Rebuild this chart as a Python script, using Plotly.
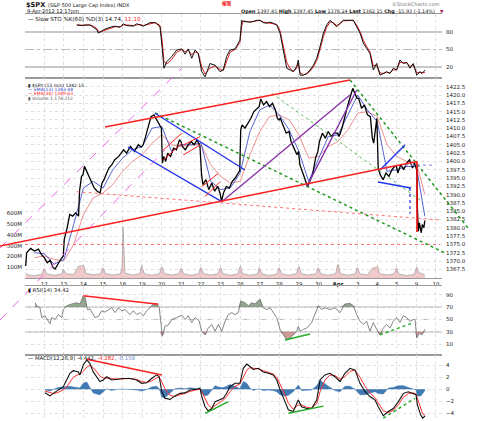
import plotly.graph_objects as go

W, H = 480, 421

# ---------------- data ----------------
day_ticks = list(range(1, 22))
day_labels = ["12", "13", "14", "15", "16", "19", "20", "21", "22", "23", "26", "27", "28",
              "29", "30", "<b>Apr</b>", "3", "4", "5", "9", "10"]

price_day = [0.05, 0.10, 0.30, 0.50, 0.70, 0.85,
             1.00, 1.15, 1.30, 1.45, 1.55, 1.70, 1.85, 1.97,
             2.02, 2.15, 2.30, 2.45, 2.60, 2.75, 2.80, 2.90, 2.98,
             3.05, 3.20, 3.40, 3.55, 3.70, 3.85, 3.95,
             4.05, 4.15, 4.30, 4.45, 4.60, 4.80, 4.95,
             5.05, 5.20, 5.40, 5.60, 5.80, 5.95,
             6.05, 6.15, 6.30, 6.45, 6.60, 6.75, 6.90, 6.98,
             7.03, 7.10, 7.20, 7.30, 7.45, 7.60, 7.75, 7.90, 7.98,
             8.05, 8.20, 8.35, 8.50, 8.65, 8.80, 8.95,
             9.03, 9.10, 9.25, 9.40, 9.55, 9.70, 9.85, 9.97,
             10.05, 10.15, 10.30, 10.45, 10.60, 10.75, 10.90, 10.98,
             11.03, 11.10, 11.25, 11.40, 11.55, 11.70, 11.85, 11.97,
             12.05, 12.20, 12.35, 12.50, 12.65, 12.80, 12.90, 12.98,
             13.05, 13.20, 13.35, 13.50, 13.60, 13.75, 13.90, 13.98,
             14.05, 14.20, 14.35, 14.45, 14.55, 14.70, 14.85, 14.97,
             15.05, 15.20, 15.35, 15.50, 15.65, 15.80, 15.97,
             16.05, 16.20, 16.35, 16.50, 16.65, 16.75, 16.85, 16.97,
             17.05, 17.20, 17.35, 17.50, 17.65, 17.75, 17.82, 17.92, 17.98,
             18.05, 18.15, 18.30, 18.45, 18.60, 18.75, 18.90, 18.98,
             19.05, 19.20, 19.35, 19.50, 19.65, 19.80, 19.90, 19.98,
             20.02, 20.05, 20.10, 20.15, 20.25, 20.30, 20.38, 20.43]
price_close = [1368.5, 1372.5, 1373.8, 1373.0, 1373.6, 1372.0,
               1371.0, 1369.5, 1370.2, 1368.0, 1367.6, 1369.3, 1370.6, 1371.5,
               1376.5, 1379.5, 1384.0, 1383.5, 1384.5, 1383.5, 1391.0, 1395.5, 1396.0,
               1398.5, 1396.5, 1394.0, 1392.0, 1391.0, 1390.5, 1393.5,
               1394.5, 1396.0, 1398.0, 1399.0, 1400.5, 1401.5, 1402.5,
               1403.5, 1402.5, 1404.5, 1403.0, 1405.0, 1404.3,
               1405.0, 1407.0, 1410.5, 1413.5, 1414.0, 1412.5, 1411.0, 1410.0,
               1399.5, 1401.5, 1400.0, 1402.5, 1401.5, 1404.0, 1403.5, 1406.5, 1406.0,
               1404.5, 1403.5, 1405.0, 1406.0, 1405.0, 1406.5, 1404.5,
               1396.0, 1393.0, 1394.5, 1391.5, 1393.5, 1391.0, 1392.5, 1390.5,
               1388.0, 1390.5, 1392.5, 1392.0, 1394.0, 1395.0, 1396.5, 1397.2,
               1409.5, 1411.0, 1410.0, 1411.5, 1413.0, 1415.0, 1416.0, 1416.5,
               1418.8, 1417.0, 1418.0, 1416.5, 1417.5, 1415.5, 1413.0, 1412.5,
               1413.0, 1411.0, 1408.5, 1409.0, 1406.0, 1404.0, 1402.0, 1403.0,
               1399.0, 1396.5, 1394.0, 1392.3, 1394.0, 1396.0, 1401.0, 1403.0,
               1406.0, 1408.5, 1407.0, 1409.0, 1407.5, 1408.5, 1408.5,
               1407.5, 1410.0, 1414.0, 1417.0, 1420.0, 1422.0, 1420.5, 1419.0,
               1419.0, 1416.0, 1417.0, 1414.0, 1413.5, 1407.0, 1405.5, 1411.0, 1413.0,
               1398.0, 1396.0, 1394.5, 1396.5, 1395.5, 1397.5, 1398.5, 1398.5,
               1396.5, 1399.0, 1397.5, 1399.5, 1400.5, 1398.0, 1399.5, 1398.0,
               1397.4, 1386.0, 1379.0, 1381.5, 1378.5, 1381.0, 1380.0, 1382.2]

ema_day = [0.5, 1.0, 1.5, 2.0, 2.5, 3.0, 3.5, 4.0, 4.5, 5.0, 5.5, 6.0, 6.5, 7.0, 7.5, 8.0,
           8.5, 9.0, 9.5, 10.0, 10.5, 11.0, 11.5, 12.0, 12.5, 13.0, 13.5, 14.0, 14.5, 15.0,
           15.5, 16.0, 16.5, 17.0, 17.5, 18.0, 18.5, 19.0, 19.5, 20.0, 20.43]
ema13 = [1372.5, 1372.2, 1369.0, 1370.5, 1381.0, 1392.0, 1394.0, 1392.0, 1397.5, 1401.0,
         1403.5, 1404.5, 1410.0, 1410.5, 1403.0, 1405.0, 1405.0, 1405.5, 1394.0, 1391.5,
         1392.0, 1396.5, 1409.0, 1415.5, 1417.0, 1414.0, 1409.5, 1403.0, 1394.0, 1401.0,
         1407.5, 1408.0, 1414.0, 1420.0, 1415.5, 1412.0, 1397.0, 1397.5, 1398.5, 1398.5,
         1383.5]
ema34 = [1371.0, 1371.5, 1370.5, 1370.0, 1375.0, 1384.0, 1389.0, 1390.5, 1393.0, 1397.0,
         1400.0, 1402.0, 1405.5, 1408.0, 1405.0, 1404.5, 1405.0, 1405.0, 1399.0, 1395.5,
         1393.5, 1394.0, 1402.0, 1409.0, 1413.5, 1414.0, 1412.5, 1408.0, 1401.0, 1401.5,
         1404.5, 1406.0, 1409.5, 1414.5, 1415.0, 1413.5, 1405.0, 1401.5, 1400.0, 1399.5,
         1390.0]

vol_day = [0.05, 0.12, 0.50, 0.88, 0.97, 1.02, 1.12, 1.50, 1.88, 1.97,
           2.02, 2.12, 2.50, 2.75, 2.97, 3.02, 3.12, 3.50, 3.88, 3.97,
           4.02, 4.12, 4.50, 4.88, 4.97, 5.02, 5.12, 5.50, 5.88, 5.97,
           6.02, 6.12, 6.50, 6.88, 6.97, 7.02, 7.12, 7.50, 7.88, 7.97,
           8.02, 8.12, 8.50, 8.88, 8.97, 9.02, 9.12, 9.50, 9.88, 9.97,
           10.02, 10.12, 10.50, 10.88, 10.97, 11.02, 11.12, 11.50, 11.88, 11.97,
           12.02, 12.12, 12.50, 12.88, 12.97, 13.02, 13.12, 13.50, 13.88, 13.97,
           14.02, 14.12, 14.50, 14.88, 14.97, 15.02, 15.12, 15.50, 15.88, 15.97,
           16.02, 16.12, 16.50, 16.88, 16.97, 17.02, 17.12, 17.50, 17.75, 17.97,
           18.02, 18.12, 18.50, 18.88, 18.97, 19.02, 19.12, 19.50, 19.88, 19.97,
           20.02, 20.12, 20.30, 20.43]
vol_m = [50, 30, 22, 35, 85, 80, 40, 25, 35, 80,
         70, 40, 30, 110, 115, 110, 45, 30, 40, 95,
         85, 40, 28, 38, 105, 475, 45, 28, 40, 115,
         85, 38, 26, 38, 95, 100, 42, 28, 40, 90,
         80, 38, 26, 38, 90, 95, 42, 28, 40, 90,
         95, 40, 26, 38, 95, 110, 40, 26, 36, 95,
         80, 36, 24, 36, 95, 85, 38, 26, 40, 100,
         100, 40, 28, 40, 95, 85, 38, 26, 40, 120,
         120, 40, 26, 38, 95, 85, 38, 28, 90, 100,
         110, 42, 28, 40, 95, 75, 35, 24, 32, 80,
         100, 50, 38, 30]

stoch_day = [2.66, 2.91, 3.08, 3.33, 3.50, 3.68, 3.76, 3.85, 4.10, 4.36,
             4.61, 4.87, 5.03, 5.21, 5.55, 5.72, 5.89, 6.06, 6.40, 6.65,
             6.74, 6.91, 7.03, 7.11, 7.25, 7.51, 7.76, 8.02, 8.19, 8.35,
             8.53, 8.70, 8.86, 9.04, 9.21, 9.46, 9.72, 9.97, 10.14, 10.31,
             10.48, 10.74, 10.99, 11.08, 11.16, 11.50, 11.67, 11.85, 12.01, 12.18,
             12.36, 12.53, 12.69, 12.87, 13.04, 13.20, 13.38, 13.55, 13.72, 13.89,
             13.97, 14.06, 14.23, 14.40, 14.57, 14.74, 14.91, 15.08, 15.25, 15.42,
             15.59, 15.76, 15.93, 16.10, 16.27, 16.78, 16.95, 17.12, 17.29, 17.46,
             17.63, 17.80, 17.97, 18.14, 18.31, 18.48, 18.65, 18.82, 18.99, 19.16,
             19.33, 19.51, 19.67, 19.84, 20.02, 20.18, 20.29, 20.44]
stoch_k = [92, 91, 92, 92, 88, 84, 78, 80, 85, 88,
           90, 88, 94, 91, 90, 94, 92, 90, 96, 96,
           94, 89, 49, 18, 29, 38, 49, 51, 42, 51,
           35, 49, 43, 12, 3.4, 26, 23, 12, 15, 38,
           49, 51, 66, 100, 98, 97, 98, 100, 100, 96,
           95, 97, 95, 92, 78, 49, 18, 15, 12, 21,
           32, 6, 6, 9, 15, 23, 35, 55, 78, 92,
           100, 95, 89, 95, 100, 100, 89, 78, 61, 52,
           43, 15, 26, 6, 9, 12, 9, 18, 15, 32,
           26, 28, 18, 26, 6, 12, 9, 14.74]
stoch_d = [92, 91, 91.5, 92, 90, 86, 81, 80, 83, 87,
           89, 89, 92, 92, 91, 92, 93, 91, 94, 96,
           95, 91, 62, 30, 25, 33, 45, 50, 46, 49,
           41, 46, 44, 20, 8, 18, 22, 16, 14, 30,
           45, 50, 62, 90, 99, 97, 98, 99, 100, 97,
           96, 96, 95, 93, 82, 58, 28, 17, 13, 18,
           27, 10, 7, 8, 13, 20, 31, 50, 72, 88,
           97, 96, 91, 94, 99, 100, 92, 81, 66, 55,
           46, 22, 23, 10, 9, 11, 10, 15, 15, 28,
           28, 27, 21, 24, 10, 11, 10, 11.1]

rsi_day = [0.53, 0.61, 0.78, 0.87, 1.04, 1.21, 1.29, 1.38, 1.55, 1.72,
           1.89, 1.97, 2.14, 2.40, 2.66, 2.82, 2.99, 3.08, 3.20, 3.33,
           3.59, 3.76, 3.93, 4.10, 4.27, 4.44, 4.61, 4.78, 4.95, 5.12,
           5.38, 5.55, 5.72, 5.89, 6.06, 6.23, 6.40, 6.57, 6.74, 6.87,
           7.03, 7.16, 7.33, 7.51, 7.76, 8.02, 8.19, 8.35, 8.53, 8.70,
           8.90, 9.04, 9.21, 9.37, 9.55, 9.72, 9.89, 10.06, 10.23, 10.40,
           10.57, 10.74, 10.91, 11.03, 11.25, 11.42, 11.59, 11.76, 12.01, 12.18,
           12.36, 12.53, 12.69, 12.87, 13.04, 13.20, 13.38, 13.55, 13.72, 13.89,
           13.97, 14.06, 14.23, 14.40, 14.65, 14.82, 14.99, 15.16, 15.33, 15.59,
           15.84, 16.10, 16.35, 16.61, 16.78, 16.95, 17.12, 17.29, 17.46, 17.63,
           17.80, 17.97, 18.14, 18.31, 18.48, 18.65, 18.82, 18.99, 19.16, 19.33,
           19.51, 19.67, 19.84, 19.93, 20.02, 20.15, 20.27, 20.44]
rsi_val = [77, 72, 69, 53, 56, 47, 43, 53, 50, 58,
           53, 66, 72, 75, 77, 75, 88, 86, 66, 67,
           53, 55, 64, 62, 66, 69, 61, 69, 64, 66,
           58, 64, 58, 61, 56, 64, 69, 75, 76, 69,
           23, 39, 41, 50, 53, 57, 50, 56, 45, 53,
           48, 31, 25, 36, 42, 31, 42, 31, 47, 58,
           61, 58, 61, 80, 77, 72, 77, 75, 83, 69,
           66, 69, 61, 53, 34, 25, 17, 20, 25, 31,
           39, 31, 34, 36, 45, 58, 72, 66, 69, 66,
           69, 61, 75, 76, 72, 58, 47, 42, 47, 31,
           45, 34, 25, 36, 42, 36, 47, 53, 45, 56,
           53, 47, 50, 50, 20, 28, 25, 34.42]

macd_day = [1.04, 1.29, 1.46, 1.72, 1.97, 2.14, 2.31, 2.48, 2.74, 2.82,
            2.99, 3.17, 3.33, 3.50, 3.68, 3.84, 4.01, 4.19, 4.44, 4.70,
            5.03, 5.38, 5.72, 5.97, 6.23, 6.48, 6.74, 6.87, 7.00, 7.16,
            7.42, 7.67, 7.93, 8.18, 8.44, 8.78, 8.95, 9.04, 9.21, 9.37,
            9.55, 9.72, 9.97, 10.14, 10.31, 10.48, 10.74, 10.99, 11.16, 11.34,
            11.50, 11.67, 11.93, 12.18, 12.44, 12.69, 12.87, 13.04, 13.29, 13.46,
            13.71, 13.97, 14.14, 14.40, 14.65, 14.91, 15.08, 15.33, 15.59, 15.84,
            16.10, 16.35, 16.61, 16.87, 17.12, 17.38, 17.63, 17.89, 18.05, 18.31,
            18.57, 18.82, 19.08, 19.34, 19.59, 19.85, 19.98, 20.05, 20.22, 20.32,
            20.44]
macd_line = [-0.56, -1.1, -0.67, -0.1, 0.44, 1.56, 2.67, 3.1, 2.9, 2.4,
             4.05, 4.9, 4.3, 2.9, 2.1, 1.3, 1.56, 2.1, 1.56, 1.67,
             1.8, 1.8, 1.56, 1.0, 1.1, 1.8, 2.4, 2.1, -0.4, -1.5,
             -1.67, -1.1, -0.67, -0.6, -0.1, 0.0, 0.17, -1.2, -2.9, -3.6,
             -3.2, -2.05, -1.78, -1.5, -0.67, 0.44, 1.0, 1.0, 3.5, 4.2,
             3.8, 3.3, 3.5, 2.9, 2.67, 2.4, 1.56, -0.1, -2.05, -3.4,
             -3.7, -1.78, -2.9, -3.2, -3.2, -1.78, 1.56, 2.4, 2.67, 2.1,
             1.3, 2.67, 3.5, 3.2, 1.0, -0.4, -1.2, -1.78, -2.9, -4.4,
             -3.7, -3.2, -2.05, -0.67, -0.4, -0.67, -0.9, -2.6, -4.3, -4.8,
             -4.442]
macd_signal = [-0.3, -0.6, -0.7, -0.5, -0.1, 0.4, 1.2, 2.0, 2.5, 2.5,
               3.0, 3.7, 4.0, 3.6, 2.9, 2.2, 1.9, 1.9, 1.8, 1.7,
               1.75, 1.8, 1.65, 1.3, 1.15, 1.4, 1.9, 2.0, 1.2, 0.1,
               -1.0, -1.2, -0.9, -0.7, -0.35, -0.1, 0.05, -0.4, -1.5, -2.6,
               -3.1, -2.7, -2.1, -1.8, -1.2, -0.4, 0.5, 0.9, 2.0, 3.2,
               3.6, 3.5, 3.4, 3.1, 2.8, 2.55, 2.0, 0.9, -0.9, -2.3,
               -3.3, -2.6, -2.6, -3.0, -3.1, -2.4, -0.4, 1.5, 2.4, 2.3,
               1.7, 2.1, 3.0, 3.2, 2.0, 0.5, -0.6, -1.4, -2.2, -3.6,
               -3.9, -3.5, -2.6, -1.3, -0.7, -0.6, -0.8, -1.5, -3.2, -4.1,
               -4.282]
macd_hist = [-0.1, -0.3, 0.0, 0.3, 0.4, 0.5, 0.5, 0.4, 0.3, 0.2,
             1.0, 1.2, 0.3, -0.6, -0.8, -0.9, -0.4, 0.1, -0.2, 0.0,
             0.05, 0.0, -0.1, -0.3, -0.05, 0.4, 0.5, 0.1, -1.3, -1.4,
             -0.6, 0.1, 0.2, 0.1, 0.25, 0.1, 0.1, -0.7, -1.1, -0.9,
             -0.1, 0.6, 0.3, 0.3, 0.5, 0.8, 0.5, 0.1, 1.3, 1.0,
             0.2, -0.2, 0.1, -0.2, -0.1, -0.2, -0.4, -0.9, -1.1, -1.0,
             -0.4, 0.7, -0.2, -0.2, -0.1, 0.6, 1.5, 0.9, 0.3, -0.2,
             -0.4, 0.5, 0.5, 0.0, -0.9, -0.9, -0.6, -0.4, -0.7, -0.8,
             0.2, 0.3, 0.6, 0.6, 0.3, 0.0, -0.1, -1.1, -1.1, -0.7,
             -0.159]

price_ticks = [1422.5, 1420.0, 1417.5, 1415.0, 1412.5, 1410.0, 1407.5, 1405.0, 1402.5,
               1400.0, 1397.5, 1395.0, 1392.5, 1390.0, 1387.5, 1385.0, 1382.5, 1380.0,
               1377.5, 1375.0, 1372.5, 1370.0, 1367.5]
vol_ticks = [100, 200, 300, 400, 500, 600]
vol_labels = ["100M", "200M", "300M", "400M", "500M", "600M"]

# drawn trend lines (day, price) endpoints
red_lower_day, red_lower_px = [-1.261, 20.03], [1374.52, 1399.97]
red_upper_day, red_upper_px = [4.10, 16.61], [1410.36, 1424.52]
red_drop_day, red_drop_px = [20.03, 20.03], [1399.97, 1378.73]
red_h_day, red_h_px = [0.015, 21.21], [1375.0, 1375.0]
red_slope_day, red_slope_px = [2.655, 21.21], [1390.87, 1382.35]
mag_upper_day, mag_upper_px = [-1.261, 8.032], [1373.92, 1428.13]
mag_lower_day, mag_lower_px = [-1.261, 7.163], [1352.23, 1403.43]
blue_lo_day, blue_lo_px = [5.274, 10.059], [1404.34, 1387.86]
blue_hi_day, blue_hi_px = [6.653, 11.248], [1414.49, 1397.41]
blue_up_day, blue_up_px = [18.14, 19.42], [1397.41, 1404.94]
blue_apr_day, blue_apr_px = [18.04, 19.72], [1393.8, 1392.0]
blue_v_day, blue_v_px = [19.67, 19.67], [1392.0, 1384.2]
lav_day, lav_px = [19.42, 20.80], [1398.9, 1398.9]
purple1_day, purple1_px = [10.059, 16.61], [1387.86, 1419.98]
purple2_day, purple2_px = [14.399, 16.952], [1392.38, 1421.51]
green1_day, green1_px = [6.653, 21.459], [1414.58, 1372.41]
green2_day, green2_px = [12.612, 20.184], [1420.51, 1388.37]
green3_day, green3_px = [16.61, 22.636], [1424.52, 1379.94]
flag_days = [[7.077, 8.016], [7.077, 8.016], [8.098, 8.951], [8.098, 8.951],
             [9.038, 9.885], [9.206, 9.972]]
flag_pxs = [[1403.43, 1408.46], [1400.42, 1405.45], [1404.94, 1407.44], [1401.93, 1404.94],
            [1392.38, 1396.42], [1389.37, 1393.89]]

rsi_red_day, rsi_red_val = [2.99, 6.82], [88.2, 74.6]
rsi_grn_day, rsi_grn_val = [13.29, 14.57], [17.0, 26.6]
rsi_grn2_day, rsi_grn2_val = [18.14, 19.84], [25.4, 44.6]
macd_red_day, macd_red_val = [3.17, 7.00], [5.0, 2.38]
macd_grn1_day, macd_grn1_val = [9.21, 10.40], [-4.0, -2.05]
macd_grn2_day, macd_grn2_val = [13.46, 15.25], [-4.0, -2.8]
macd_grn3_day, macd_grn3_val = [18.31, 19.93], [-4.8, -1.5]

# ---------------- layout geometry ----------------
def fx(px):
    return px / W


def fy(py):
    return 1 - py / H


FONT = "DejaVu Sans"
XDOM = [fx(25), fx(442)]
XR = [0.0153, 21.307]

fig = go.Figure()

# stochastic panel
fig.add_trace(go.Scatter(x=stoch_day, y=stoch_d, xaxis="x", yaxis="y", mode="lines",
                         line=dict(color="#e02020", width=1)))
fig.add_trace(go.Scatter(x=stoch_day, y=stoch_k, xaxis="x", yaxis="y", mode="lines",
                         line=dict(color="#111111", width=1)))

# price panel
fig.add_trace(go.Scatter(x=ema_day, y=ema34, xaxis="x2", yaxis="y2", mode="lines",
                         line=dict(color="#f09090", width=1)))
fig.add_trace(go.Scatter(x=ema_day, y=ema13, xaxis="x2", yaxis="y2", mode="lines",
                         line=dict(color="#4455cc", width=0.9)))
fig.add_trace(go.Scatter(x=price_day, y=price_close, xaxis="x2", yaxis="y2", mode="lines",
                         line=dict(color="#000000", width=1.3)))
fig.add_trace(go.Scatter(x=vol_day, y=vol_m, xaxis="x2", yaxis="y6", mode="lines",
                         fill="tozeroy", fillcolor="rgba(225,140,140,0.45)",
                         line=dict(color="rgba(150,150,150,0.9)", width=0.7)))

# RSI panel
rsi_hi = [max(v, 70) for v in rsi_val]
rsi_lo = [min(v, 30) for v in rsi_val]
fig.add_trace(go.Scatter(x=rsi_day, y=[70] * len(rsi_day), xaxis="x3", yaxis="y3",
                         mode="lines", line=dict(width=0, color="rgba(0,0,0,0)")))
fig.add_trace(go.Scatter(x=rsi_day, y=rsi_hi, xaxis="x3", yaxis="y3", mode="lines",
                         fill="tonexty", fillcolor="rgba(110,140,105,0.75)",
                         line=dict(width=0, color="rgba(0,0,0,0)")))
fig.add_trace(go.Scatter(x=rsi_day, y=[30] * len(rsi_day), xaxis="x3", yaxis="y3",
                         mode="lines", line=dict(width=0, color="rgba(0,0,0,0)")))
fig.add_trace(go.Scatter(x=rsi_day, y=rsi_lo, xaxis="x3", yaxis="y3", mode="lines",
                         fill="tonexty", fillcolor="rgba(190,120,120,0.75)",
                         line=dict(width=0, color="rgba(0,0,0,0)")))
fig.add_trace(go.Scatter(x=rsi_day, y=rsi_val, xaxis="x3", yaxis="y3", mode="lines",
                         line=dict(color="#777777", width=0.9)))
fig.add_trace(go.Scatter(x=rsi_red_day, y=rsi_red_val, xaxis="x3", yaxis="y3", mode="lines",
                         line=dict(color="#ff2020", width=1.5)))
fig.add_trace(go.Scatter(x=rsi_grn_day, y=rsi_grn_val, xaxis="x3", yaxis="y3", mode="lines",
                         line=dict(color="#22aa22", width=1.5)))
fig.add_trace(go.Scatter(x=rsi_grn2_day, y=rsi_grn2_val, xaxis="x3", yaxis="y3", mode="lines",
                         line=dict(color="#22aa22", width=1.5, dash="dot")))

# MACD panel
fig.add_trace(go.Scatter(x=macd_day, y=macd_hist, xaxis="x4", yaxis="y4", mode="lines",
                         fill="tozeroy", fillcolor="rgba(55,115,175,0.95)",
                         line=dict(color="rgba(55,115,175,1)", width=0.5)))
fig.add_trace(go.Scatter(x=macd_day, y=macd_signal, xaxis="x4", yaxis="y4", mode="lines",
                         line=dict(color="#ff3030", width=1)))
fig.add_trace(go.Scatter(x=macd_day, y=macd_line, xaxis="x4", yaxis="y4", mode="lines",
                         line=dict(color="#111111", width=1.1)))
fig.add_trace(go.Scatter(x=macd_red_day, y=macd_red_val, xaxis="x4", yaxis="y4", mode="lines",
                         line=dict(color="#ff2020", width=1.5)))
for dd, vv, dsh in [(macd_grn1_day, macd_grn1_val, "solid"),
                    (macd_grn2_day, macd_grn2_val, "solid"),
                    (macd_grn3_day, macd_grn3_val, "dot")]:
    fig.add_trace(go.Scatter(x=dd, y=vv, xaxis="x4", yaxis="y4", mode="lines",
                             line=dict(color="#22aa22", width=1.5, dash=dsh)))

# trendlines on full-figure overlay axes (same day/price scale as the price panel)
def tl(d, p, color, width, dash="solid"):
    fig.add_trace(go.Scatter(x=d, y=p, xaxis="x5", yaxis="y5", mode="lines",
                             line=dict(color=color, width=width, dash=dash)))


tl(red_h_day, red_h_px, "#ff6060", 0.9, "dot")
tl(red_slope_day, red_slope_px, "#ff6060", 0.9, "dot")
tl(mag_upper_day, mag_upper_px, "#ee66ee", 1.0, "dash")
tl(mag_lower_day, mag_lower_px, "#ee66ee", 1.0, "dash")
tl(green2_day, green2_px, "#33aa33", 0.8, "dot")
tl(green1_day, green1_px, "#229922", 1.5, "dot")
tl(green3_day, green3_px, "#229922", 1.5, "dot")
tl(blue_lo_day, blue_lo_px, "#2233ee", 1.4)
tl(blue_hi_day, blue_hi_px, "#2233ee", 1.4)
tl(blue_up_day, blue_up_px, "#2233ee", 1.4)
tl(blue_apr_day, blue_apr_px, "#2233ee", 1.4)
tl(blue_v_day, blue_v_px, "#2233ee", 1.2, "dot")
tl(lav_day, lav_px, "#9999ee", 1.2, "dot")
tl(purple1_day, purple1_px, "#8833aa", 1.4)
tl(purple2_day, purple2_px, "#8833aa", 1.4)
for dd, pp in zip(flag_days, flag_pxs):
    tl(dd, pp, "#ff2020", 1.0)
tl(red_upper_day, red_upper_px, "#ff2020", 1.6)
tl(red_lower_day, red_lower_px, "#ff2020", 1.6)
tl(red_drop_day, red_drop_px, "#ee1010", 1.6)

tickfont = dict(family=FONT, size=5.5, color="#222222")
grid = dict(showgrid=True, gridcolor="#e0e0e0", griddash="dot", gridwidth=0.8)
xcommon = dict(domain=XDOM, range=XR, tickmode="array", tickvals=day_ticks,
               showline=True, mirror=True, linecolor="#9a9a9a", linewidth=1,
               zeroline=False, ticks="", **grid)

layout = dict(
    width=W, height=H, margin=dict(l=0, r=0, t=0, b=0),
    paper_bgcolor="white", plot_bgcolor="rgba(0,0,0,0)", showlegend=False,
    font=dict(family=FONT, size=5.5, color="#222"),
    xaxis=dict(anchor="y", showticklabels=False, **xcommon),
    yaxis=dict(domain=[fy(78), fy(14)], range=[1.2, 110.8], anchor="x", side="right",
               tickmode="array", tickvals=[20, 50, 80], showgrid=False, zeroline=False,
               showline=False, ticks="", tickfont=tickfont, ticklabelstandoff=3),
    xaxis2=dict(anchor="y2", showticklabels=True, ticktext=day_labels, tickfont=tickfont,
                ticklabelstandoff=0, **xcommon),
    yaxis2=dict(domain=[fy(278), fy(78)], range=[1364.88, 1425.12], anchor="x2", side="right",
                tickmode="array", tickvals=price_ticks,
                ticktext=[f"{v:.1f}" for v in price_ticks], zeroline=False, showline=False,
                ticks="", tickfont=tickfont, ticklabelstandoff=3, **grid),
    yaxis6=dict(overlaying="y2", anchor="x2", side="left", range=[0, 1855],
                tickmode="array", tickvals=vol_ticks, ticktext=vol_labels, showgrid=False,
                zeroline=False, showline=False, ticks="", tickfont=tickfont,
                ticklabelstandoff=2),
    xaxis3=dict(anchor="y3", showticklabels=False, **xcommon),
    yaxis3=dict(domain=[fy(355), fy(286)], range=[-7.4, 104.1], anchor="x3", side="right",
                tickmode="array", tickvals=[10, 30, 50, 70, 90], zeroline=False,
                showline=False, ticks="", tickfont=tickfont, ticklabelstandoff=3, **grid),
    xaxis4=dict(anchor="y4", showticklabels=False, **xcommon),
    yaxis4=dict(domain=[0, fy(355)], range=[-5.28, 5.72], anchor="x4", side="right",
                tickmode="array", tickvals=[-4, -2, 0, 2, 4], zeroline=False,
                showline=False, ticks="", tickfont=tickfont, ticklabelstandoff=3, **grid),
    xaxis5=dict(domain=[0, 1], range=[-1.2612, 23.2474], anchor="y5", visible=False),
    yaxis5=dict(domain=[0, 1], range=[1321.81, 1448.61], anchor="x5", visible=False),
)
fig.update_layout(**layout)

# reference lines in stochastic and RSI panels
shapes = []
for yv in (20, 80):
    shapes.append(dict(type="line", xref="paper", yref="y", x0=XDOM[0], x1=XDOM[1],
                       y0=yv, y1=yv, line=dict(color="#c8c8c8", width=2), layer="below"))
shapes.append(dict(type="line", xref="paper", yref="y", x0=XDOM[0], x1=XDOM[1], y0=50, y1=50,
                   line=dict(color="#aaaaaa", width=0.8, dash="dashdot"), layer="below"))
for yv in (30, 70):
    shapes.append(dict(type="line", xref="paper", yref="y3", x0=XDOM[0], x1=XDOM[1],
                       y0=yv, y1=yv, line=dict(color="#b8b8b8", width=1.3), layer="below"))
shapes.append(dict(type="line", xref="paper", yref="y3", x0=XDOM[0], x1=XDOM[1], y0=50, y1=50,
                   line=dict(color="#aaaaaa", width=0.8, dash="dashdot"), layer="below"))
fig.update_layout(shapes=shapes)

anns = []


def txt(x, y, s, size=5.5, color="#111", anchor="left", family=FONT):
    anns.append(dict(x=fx(x), y=fy(y), xref="paper", yref="paper", text=s, showarrow=False,
                     xanchor=anchor, yanchor="middle",
                     font=dict(family=family, size=size, color=color)))


txt(24, 4.5, "<b>$SPX</b>", 6.6)
txt(46, 5, "(S&P 500 Large Cap Index) INDX", 5.0)
txt(25, 11.5, "9-Apr-2012 12:17pm", 5.0)
txt(220, 3.5, "<b>權限</b>", 4.6, "#ee1111", family="Noto Sans CJK TC")
txt(442, 4, "©StockCharts.com", 5.0, "#777", "right")
txt(437, 11.8, "<b>Open</b> 1397.45 <b>High</b> 1397.45 <b>Low</b> 1378.24 <b>Last</b> 1382.15 "
    "<b>Chg</b> -15.93 (-1.14%)", 4.9, "#111", "right")
txt(437.5, 11.8, "▼", 4.5, "#aa2266")
txt(26, 19, "— Slow STO %K(60) %D(3) 14.74, <span style='color:#ff2020'>11.10</span>", 5.6)
txt(26, 85.5, "▮ $SPX (15 min) 1382.15", 4.5)
txt(26, 89.8, "<span style='color:#3344cc'>— EMA(13) 1383.48</span>", 4.5)
txt(26, 94, "<span style='color:#ff2020'>— EMA(34) 1389.63</span>", 4.5)
txt(26, 98.2, "<span style='color:#555'>▮ Volume 1,174,212</span>", 4.5)
txt(26, 290, "▮ RSI(14) 34.42", 5.3)
txt(26, 357.5, "— MACD(12,26,9) -4.442, <span style='color:#ff2020'>-4.282</span>, "
    "<span style='color:#6688cc'>-0.159</span>", 5.3)
fig.update_layout(annotations=anns)

fig.write_html("out.html")
